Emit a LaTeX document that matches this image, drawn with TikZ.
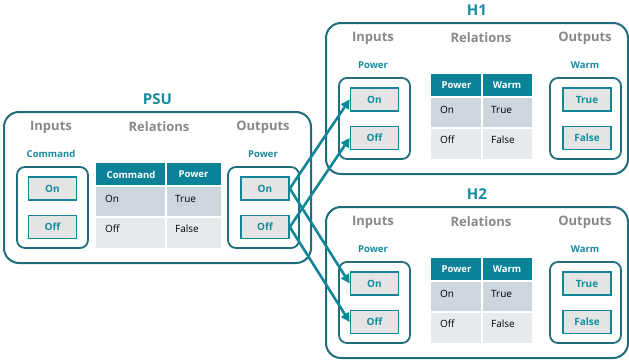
\documentclass[tikz,border=0pt]{standalone}
\usepackage{fontspec}
\setmainfont{Open Sans}
\usetikzlibrary{arrows.meta}

\definecolor{tealtxt}{HTML}{168AA0}
\definecolor{tealdark}{HTML}{1F6C7D}
\definecolor{tealline}{HTML}{128698}
\definecolor{headfill}{HTML}{0B8298}
\definecolor{rowone}{HTML}{CCD6DC}
\definecolor{rowtwo}{HTML}{E6EAED}
\definecolor{btnfill}{HTML}{E4E4E4}
\definecolor{greytxt}{HTML}{888888}

\begin{document}
\begin{tikzpicture}[x=1pt, y=-1pt,
    outer/.style={draw=tealdark, line width=2pt, rounded corners=15pt},
    group/.style={draw=tealdark, line width=1.8pt, rounded corners=8pt},
    title/.style={text=tealtxt, font=\fontsize{15}{17}\selectfont\bfseries},
    head/.style={text=greytxt, font=\fontsize{13}{15}\selectfont\bfseries},
    sub/.style={text=tealtxt, font=\fontsize{9.5}{11}\selectfont\bfseries},
    btn/.style={draw=tealline, line width=1.6pt, fill=btnfill, text=tealtxt,
      minimum width=48pt, minimum height=23pt, inner sep=0pt,
      font=\fontsize{10}{12}\selectfont\bfseries},
    th/.style={text=white, inner sep=0pt, font=\fontsize{9.5}{11}\selectfont\bfseries},
    td/.style={anchor=west, inner sep=0pt, font=\fontsize{10}{12}\selectfont},
    link/.style={draw=tealline, line width=2.6pt,
      -{Triangle[length=9pt, width=9pt]}}]
  \useasboundingbox (0,0) rectangle (629,364);

  % one block each: name/x/y/width/title/input/output/out-a/out-b/table left/split/right
  \foreach \b/\x/\y/\w/\t/\i/\o/\oa/\ob/\tl/\ts/\tr in {
      psu/4/112/307/PSU/Command/Power/On/Off/92/162/217,
      h1/326/23/302/H1/Power/Warm/True/False/105/156/206,
      h2/326/207/302/H2/Power/Warm/True/False/105/156/206} {
    \begin{scope}[shift={(\x,\y)}]
      \draw[outer] (0,0) rectangle (\w,151);
      \node[title] (\b) at (\w/2,-13) {\t};
      \node[head] (\b-lin) at (47,15) {Inputs};
      \node[head] (\b-lrel) at (155,15) {Relations};
      \node[head] (\b-lout) at (259,15) {Outputs};
      \node[sub] (\b-sin) at (47,42) {\i};
      \node[sub] (\b-sout) at (259,42) {\o};

      % input and output groups
      \draw[group] (13,55) rectangle (84,136);
      \draw[group] (224,55) rectangle (295,136);
      \node[btn] (\b-in-a) at (48.5,76.5) {On};
      \node[btn] (\b-in-b) at (48.5,115) {Off};
      \node[btn] (\b-out-a) at (261,76.5) {\oa};
      \node[btn] (\b-out-b) at (261,115) {\ob};

      % relations table
      \fill[headfill] (\tl,51) rectangle (\tr,74);
      \fill[rowone] (\tl,74) rectangle (\tr,105);
      \fill[rowtwo] (\tl,105) rectangle (\tr,136);
      \draw[white, line width=1.5pt] (\ts,51) -- (\ts,136);
      \draw[white, line width=1.5pt] (\tl,74) -- (\tr,74);
      \draw[white, line width=1.5pt] (\tl,105) -- (\tr,105);
      \node[th] (\b-ha) at ({(\tl+\ts)/2},62.5) {\i};
      \node[th] (\b-hb) at ({(\ts+\tr)/2},62.5) {\o};
      \node[td] (\b-ra) at (\tl+9,87) {On};
      \node[td] (\b-rb) at (\ts+9,87) {True};
      \node[td] (\b-rc) at (\tl+9,117) {Off};
      \node[td] (\b-rd) at (\ts+9,117) {False};
    \end{scope}
  }

  % PSU power outputs feed both heaters
  \draw[link] (psu-out-a.east) -- (h1-in-a.west);
  \draw[link] (psu-out-b.east) -- (h1-in-b.west);
  \draw[link] (psu-out-a.east) -- (h2-in-a.west);
  \draw[link] (psu-out-b.east) -- (h2-in-b.west);
\end{tikzpicture}
\end{document}
